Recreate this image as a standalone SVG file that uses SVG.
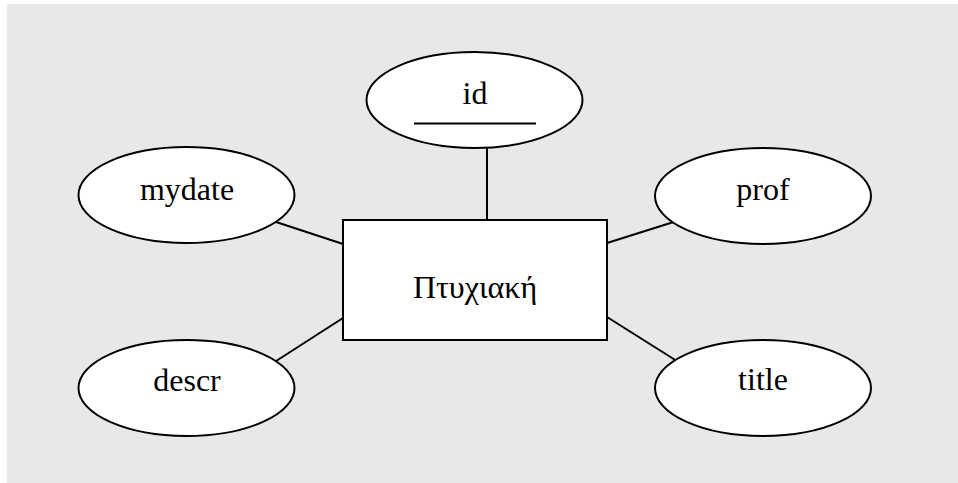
<svg xmlns="http://www.w3.org/2000/svg" width="958" height="483" viewBox="0 0 958 483">
<style>
.shape{fill:#ffffff;stroke:#000000;stroke-width:2}
.conn line{stroke:#000000;stroke-width:2}
.lbl{font-family:'Times New Roman','Liberation Serif','DejaVu Serif',serif;font-size:32px;fill:#000000;text-anchor:middle}
</style>
<rect x="0" y="0" width="958" height="483" fill="#ffffff"/>
<rect x="7" y="4" width="951" height="479" fill="#e8e8e8"/>
<g id="connectors" class="conn">
<line x1="487" y1="148" x2="487" y2="220"/>
<line x1="270" y1="220" x2="343" y2="244"/>
<line x1="273" y1="363" x2="343" y2="318"/>
<line x1="607" y1="243" x2="680" y2="220"/>
<line x1="607" y1="317" x2="680" y2="363"/>
</g>
<g id="entity">
<rect class="shape" x="343" y="220" width="264" height="120"/>
<text class="lbl" x="475" y="298">Πτυχιακή</text>
</g>
<g id="attr-id">
<ellipse class="shape" cx="474.5" cy="100" rx="108" ry="48"/>
<text class="lbl" x="475" y="104">id</text>
<line x1="414" y1="123.5" x2="536" y2="123.5" stroke="#000" stroke-width="2"/>
</g>
<g id="attr-mydate">
<ellipse class="shape" cx="186.5" cy="195" rx="108" ry="48"/>
<text class="lbl" x="187" y="200">mydate</text>
</g>
<g id="attr-descr">
<ellipse class="shape" cx="186.5" cy="388" rx="108" ry="48"/>
<text class="lbl" x="187" y="391">descr</text>
</g>
<g id="attr-prof">
<ellipse class="shape" cx="763" cy="196" rx="108" ry="48"/>
<text class="lbl" x="763" y="200">prof</text>
</g>
<g id="attr-title">
<ellipse class="shape" cx="763" cy="388" rx="108" ry="48"/>
<text class="lbl" x="763" y="390">title</text>
</g>
</svg>
